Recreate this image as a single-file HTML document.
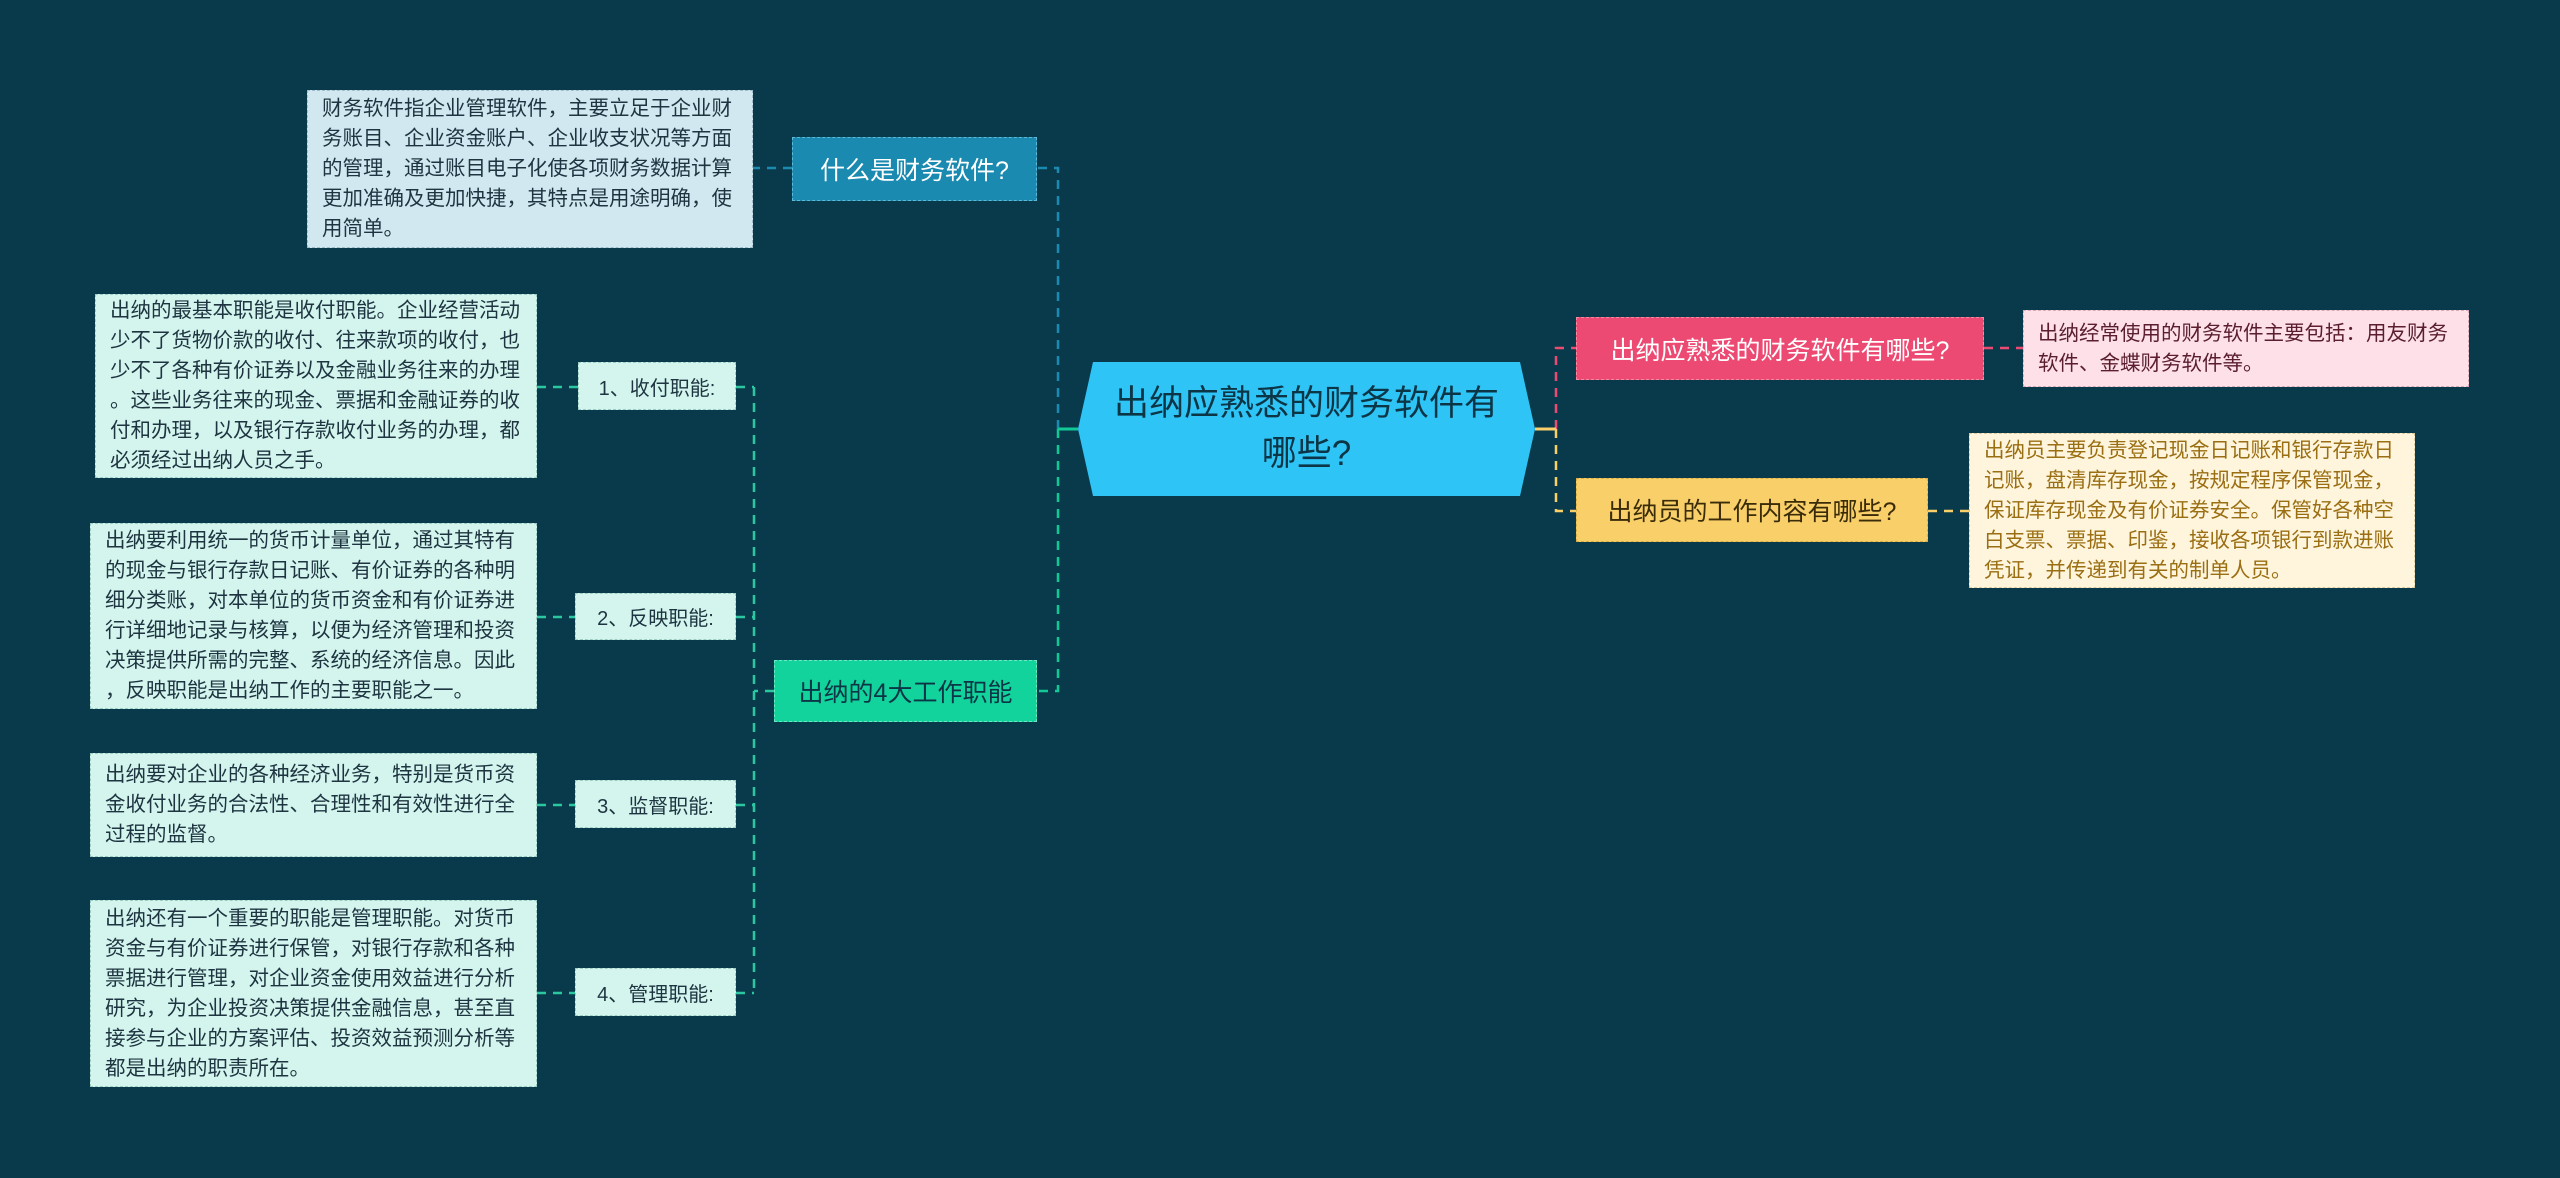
<!DOCTYPE html>
<html><head><meta charset="utf-8">
<style>
html,body{margin:0;padding:0;}
body{width:2560px;height:1178px;background:#093a4b;position:relative;overflow:hidden;font-family:"Liberation Sans","Noto Sans CJK SC",sans-serif;}
.n{position:absolute;box-sizing:border-box;display:flex;align-items:center;justify-content:center;white-space:nowrap;}
.t{position:absolute;box-sizing:border-box;font-size:20.5px;line-height:30px;white-space:nowrap;padding:0 14px;display:flex;align-items:center;}
svg{position:absolute;left:0;top:0;}
</style></head><body>
<svg width="2560" height="1178">
 <g fill="none" stroke-width="2.5" stroke-dasharray="9,7">
  <!-- left top blue -->
  <path d="M1058 429 V168 H1037" stroke="#1a8ab0"/>
  <path d="M792 168 H753" stroke="#1a8ab0"/>
  <!-- left bottom green -->
  <path d="M1058 429 V691 H1037" stroke="#12c995"/>
  <path d="M774 691 H754" stroke="#2ac7a0"/>
  <path d="M754 387 V993" stroke="#2ac7a0"/>
  <path d="M736 387 H754 M736 617 H754 M736 805 H754 M736 993 H754" stroke="#2ac7a0"/>
  <path d="M537 387 H578 M537 617 H575 M537 805 H575 M537 993 H575" stroke="#2ac7a0"/>
  <!-- right -->
  <path d="M1556 429 V348 H1576" stroke="#ec4a72"/>
  <path d="M1984 348 H2023" stroke="#ec4a72"/>
  <path d="M1556 429 V511 H1576" stroke="#f9cf6a"/>
  <path d="M1928 511 H1969" stroke="#f9cf6a"/>
 </g>
 <path d="M1058 429 H1078" stroke="#12c995" stroke-width="3"/>
 <path d="M1535 429 H1556" stroke="#f9cf6a" stroke-width="3"/>
 <polygon points="1093,362 1520,362 1535,429 1520,496 1093,496 1078,429" fill="#2fc4f6"/>
</svg>
<div class="n" style="left:1078px;top:362px;width:457px;height:134px;font-size:35px;line-height:50px;color:#0c3546;text-align:center;white-space:normal;">出纳应熟悉的财务软件有<br>哪些?</div>

<div class="n" style="left:792px;top:137px;width:245px;height:64px;background:#1a8ab0;border:1.5px dashed #5fb8d4;color:#fff;font-size:25px;">什么是财务软件?</div>
<div class="t" style="left:307px;top:90px;width:446px;height:158px;background:#d2e8f0;border:1.5px dashed #9fbcc8;color:#1e3440;">财务软件指企业管理软件，主要立足于企业财<br>务账目、企业资金账户、企业收支状况等方面<br>的管理，通过账目电子化使各项财务数据计算<br>更加准确及更加快捷，其特点是用途明确，使<br>用简单。</div>

<div class="n" style="left:774px;top:660px;width:263px;height:62px;background:#12d39c;border:1.5px dashed #6fe6c3;color:#0c3546;font-size:25px;">出纳的4大工作职能</div>

<div class="n" style="left:578px;top:362px;width:158px;height:48px;background:#d3f5ee;border:1.5px dashed #9cccc2;color:#1e3440;font-size:20px;">1、收付职能:</div>
<div class="n" style="left:575px;top:593px;width:161px;height:47px;background:#d3f5ee;border:1.5px dashed #9cccc2;color:#1e3440;font-size:20px;">2、反映职能:</div>
<div class="n" style="left:575px;top:780px;width:161px;height:48px;background:#d3f5ee;border:1.5px dashed #9cccc2;color:#1e3440;font-size:20px;">3、监督职能:</div>
<div class="n" style="left:575px;top:968px;width:161px;height:48px;background:#d3f5ee;border:1.5px dashed #9cccc2;color:#1e3440;font-size:20px;">4、管理职能:</div>

<div class="t" style="left:95px;top:294px;width:442px;height:184px;background:#d3f5ee;border:1.5px dashed #9cccc2;color:#1e3440;">出纳的最基本职能是收付职能。企业经营活动<br>少不了货物价款的收付、往来款项的收付，也<br>少不了各种有价证券以及金融业务往来的办理<br>。这些业务往来的现金、票据和金融证券的收<br>付和办理，以及银行存款收付业务的办理，都<br>必须经过出纳人员之手。</div>
<div class="t" style="left:90px;top:523px;width:447px;height:186px;background:#d3f5ee;border:1.5px dashed #9cccc2;color:#1e3440;">出纳要利用统一的货币计量单位，通过其特有<br>的现金与银行存款日记账、有价证券的各种明<br>细分类账，对本单位的货币资金和有价证券进<br>行详细地记录与核算，以便为经济管理和投资<br>决策提供所需的完整、系统的经济信息。因此<br>，反映职能是出纳工作的主要职能之一。</div>
<div class="t" style="left:90px;top:753px;width:447px;height:104px;background:#d3f5ee;border:1.5px dashed #9cccc2;color:#1e3440;">出纳要对企业的各种经济业务，特别是货币资<br>金收付业务的合法性、合理性和有效性进行全<br>过程的监督。</div>
<div class="t" style="left:90px;top:900px;width:447px;height:187px;background:#d3f5ee;border:1.5px dashed #9cccc2;color:#1e3440;">出纳还有一个重要的职能是管理职能。对货币<br>资金与有价证券进行保管，对银行存款和各种<br>票据进行管理，对企业资金使用效益进行分析<br>研究，为企业投资决策提供金融信息，甚至直<br>接参与企业的方案评估、投资效益预测分析等<br>都是出纳的职责所在。</div>

<div class="n" style="left:1576px;top:317px;width:408px;height:63px;background:#ec4a72;border:1.5px dashed #f38aa4;color:#fff;font-size:25px;">出纳应熟悉的财务软件有哪些?</div>
<div class="t" style="left:2023px;top:310px;width:446px;height:77px;background:#fde0e8;border:1.5px dashed #d9aab8;color:#5a1e2e;">出纳经常使用的财务软件主要包括：用友财务<br>软件、金蝶财务软件等。</div>

<div class="n" style="left:1576px;top:478px;width:352px;height:64px;background:#f9cf6a;border:1.5px dashed #d8ad48;color:#3a2c08;font-size:25px;">出纳员的工作内容有哪些?</div>
<div class="t" style="left:1969px;top:433px;width:446px;height:155px;background:#fff5dc;border:1.5px dashed #dccb9c;color:#9a6e12;">出纳员主要负责登记现金日记账和银行存款日<br>记账，盘清库存现金，按规定程序保管现金，<br>保证库存现金及有价证券安全。保管好各种空<br>白支票、票据、印鉴，接收各项银行到款进账<br>凭证，并传递到有关的制单人员。</div>
</body></html>
